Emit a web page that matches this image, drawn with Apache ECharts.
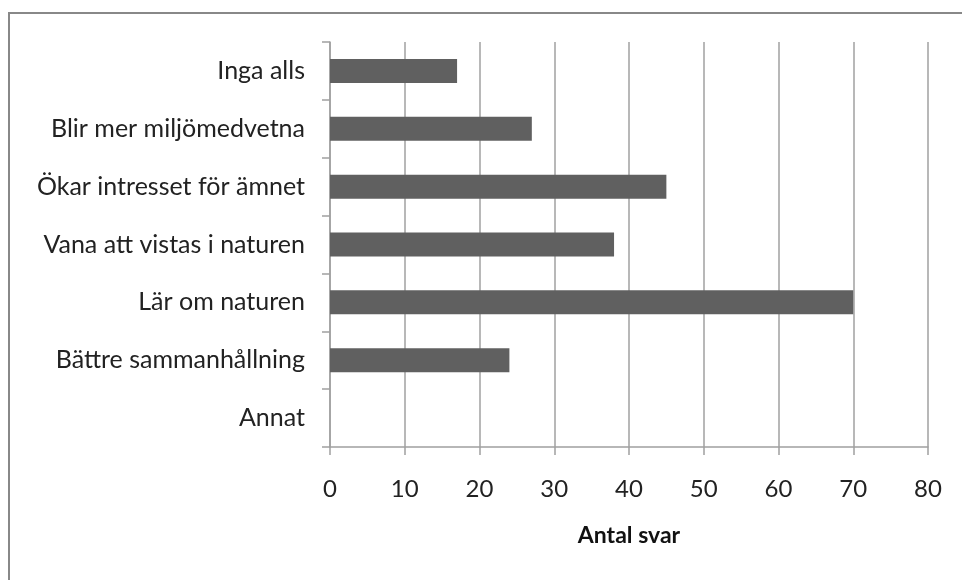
<!DOCTYPE html>
<html><head><meta charset="utf-8">
<script src="https://cdn.jsdelivr.net/npm/echarts@6/dist/echarts.min.js"></script>
<style>html,body{margin:0;padding:0;background:#fff}#c{width:962px;height:580px}</style>
</head><body><div id="c"></div>
<script>
const categories = ["Inga alls","Blir mer miljömedvetna","Ökar intresset för ämnet","Vana att vistas i naturen","Lär om naturen","Bättre sammanhållning","Annat"];
const values = [17, 27, 45, 38, 70, 24, 0];
const xTicks = [0, 80, 10];
const axisTitle = "Antal svar";
const FONT = "Lato";
const chart = echarts.init(document.getElementById('c'), null, {renderer:'canvas'});
chart.setOption({
  backgroundColor: '#ffffff',
  animation: false,
  graphic: [{type:'rect', shape:{x:9,y:13,width:1100,height:1100}, style:{fill:'none', stroke:'#888888', lineWidth:2}, silent:true}],
  grid: {left:330, right:34, top:42, bottom:133, containLabel:false},
  xAxis: {
    type:'value', min:xTicks[0], max:xTicks[1], interval:xTicks[2],
    name: axisTitle, nameLocation:'middle', nameGap:77,
    nameTextStyle:{fontFamily:FONT, fontWeight:'bold', fontSize:23, color:'#111'},
    axisLine:{show:true, lineStyle:{color:'#a0a0a0', width:1.5}},
    axisTick:{show:true, length:8, lineStyle:{color:'#a0a0a0', width:1.5}},
    splitLine:{show:true, lineStyle:{color:'#a0a0a0', width:1.5}},
    axisLabel:{fontFamily:FONT, fontSize:24, color:'#222', margin:30}
  },
  yAxis: {
    type:'category', data:categories, inverse:true,
    axisLine:{show:true, lineStyle:{color:'#a0a0a0', width:1.5}},
    axisTick:{show:true, length:8, lineStyle:{color:'#a0a0a0', width:1.5}},
    axisLabel:{fontFamily:FONT, fontSize:25, color:'#222', margin:25}
  },
  series: [{type:'bar', data:values, barWidth:24, itemStyle:{color:'#606060'}}]
});
</script></body></html>
